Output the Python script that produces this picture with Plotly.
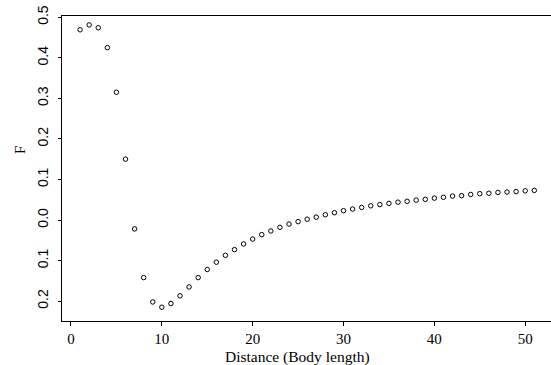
import plotly.graph_objects as go

# Distance in body lengths and the corresponding F values
distance = list(range(1, 52))
f_values = [
    0.469, 0.481, 0.474, 0.425, 0.315, 0.150, -0.022, -0.142, -0.202, -0.215,
    -0.206, -0.187, -0.165, -0.142, -0.122, -0.104, -0.087, -0.073, -0.059, -0.047,
    -0.036, -0.027, -0.018, -0.010, -0.004, 0.002, 0.007, 0.013, 0.018, 0.023,
    0.027, 0.031, 0.035, 0.038, 0.041, 0.044, 0.046, 0.049, 0.051, 0.054,
    0.056, 0.059, 0.060, 0.063, 0.065, 0.066, 0.068, 0.069, 0.070, 0.072,
    0.073,
]

x_ticks = [0, 10, 20, 30, 40, 50]
y_ticks = [-0.2, -0.1, 0.0, 0.1, 0.2, 0.3, 0.4, 0.5]
y_tick_text = ["0.2", "0.1", "0.0", "0.1", "0.2", "0.3", "0.4", "0.5"]

W, H = 551, 365
L, R, T, B = 62, 0, 16, 44

fig = go.Figure(
    go.Scatter(
        x=distance,
        y=f_values,
        mode="markers",
        marker=dict(symbol="circle-open", size=4.5, color="black",
                    line=dict(width=1, color="black")),
        showlegend=False,
    )
)

serif = "Liberation Serif, Times New Roman, serif"
sans = "Liberation Sans, Arial, sans-serif"

fig.update_layout(
    width=W,
    height=H,
    margin=dict(l=L, r=R, t=T, b=B, pad=0),
    paper_bgcolor="white",
    plot_bgcolor="white",
    xaxis=dict(
        range=[-0.99, 52.84],
        tickvals=x_ticks,
        ticks="outside",
        ticklen=4,
        tickwidth=1,
        tickcolor="black",
        showline=True,
        linecolor="black",
        linewidth=1,
        mirror=True,
        showgrid=False,
        zeroline=False,
        tickfont=dict(family=serif, size=15, color="black"),
    ),
    yaxis=dict(
        range=[-0.249, 0.503],
        tickvals=y_ticks,
        ticktext=y_tick_text,
        tickangle=-90,
        ticks="outside",
        ticklen=3,
        tickwidth=1,
        tickcolor="black",
        showline=True,
        linecolor="black",
        linewidth=1,
        showgrid=False,
        zeroline=False,
        ticklabelstandoff=4,
        tickfont=dict(family=sans, size=14, color="black"),
    ),
    annotations=[
        dict(
            text="Distance (Body length)",
            xref="paper", yref="paper",
            x=(297 - L) / (W - L - R), y=-(357 - (H - B)) / (H - T - B),
            xanchor="center", yanchor="middle",
            showarrow=False,
            font=dict(family=serif, size=15.5, color="black"),
        ),
        dict(
            text="F",
            xref="paper", yref="paper",
            x=(20 - L) / (W - L - R), y=((H - B) - 150) / (H - T - B),
            xanchor="center", yanchor="middle",
            textangle=-90,
            showarrow=False,
            font=dict(family=serif, size=15, color="black"),
        ),
    ],
)

fig.write_html("out.html")
